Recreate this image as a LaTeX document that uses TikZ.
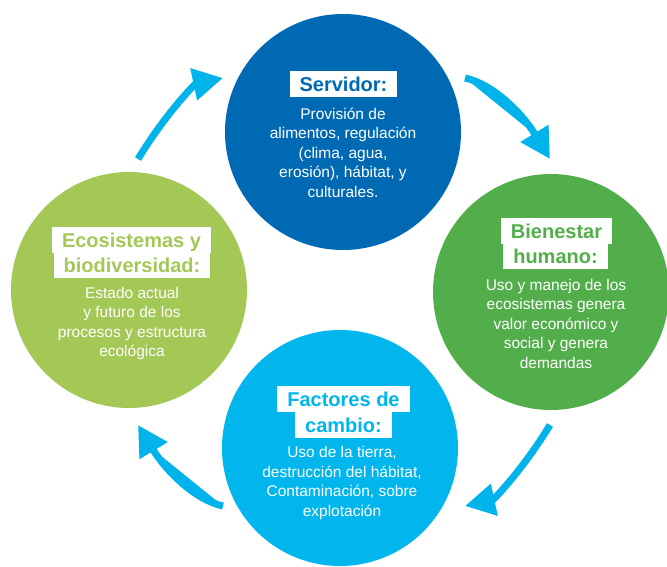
\documentclass[tikz,border=0pt]{standalone}
\usepackage{fontspec}
\setmainfont{Liberation Sans}
\usetikzlibrary{arrows.meta}
\definecolor{cblue}{RGB}{0,105,180}
\definecolor{cgreen}{RGB}{82,174,74}
\definecolor{ccyan}{RGB}{0,182,236}
\definecolor{clime}{RGB}{164,200,86}
\definecolor{carrow}{RGB}{0,180,235}
\begin{document}
\begin{tikzpicture}[x=1pt,y=-1pt,
  bubble/.style={circle, minimum size=236pt, inner sep=0pt, fill=#1},
  headbox/.style={fill=white, text=#1, font=\fontsize{20pt}{24pt}\selectfont\bfseries, inner xsep=10pt, inner ysep=2.5pt, text height=18pt, text depth=3pt},
  bodytext/.style={text=white, align=center, font=\fontsize{15.5pt}{19.5pt}\selectfont},
  cyclearrow/.style={draw=carrow, fill=carrow, line width=7pt, -{Triangle[length=30pt,width=31pt]}}
]
\useasboundingbox (0,0) rectangle (667,567);
\fill[white] (0,0) rectangle (667,567);

% circles
\node[bubble=cblue]  (top)    at (343,132) {};
\node[bubble=cgreen] (right)  at (551,292) {};
\node[bubble=ccyan]  (bottom) at (340,448) {};
\node[bubble=clime]  (left)   at (129,290) {};

% headings
\node[headbox=cblue] (topH) at (343.5,84) {Servidor:};

\node[headbox=cgreen] (rightH1) at (556.5,230.5) {Bienestar};
\node[headbox=cgreen] (rightH2) at (555.5,255.5) {humano:};

\node[headbox=ccyan] (bottomH1) at (343.5,399) {Factores de};
\node[headbox=ccyan] (bottomH2) at (343.5,424.5) {cambio:};

\node[headbox=clime] (leftH1) at (131.5,239.5) {Ecosistemas y};
\node[headbox=clime] (leftH2) at (132,264.5) {biodiversidad:};

% body texts
\node[bodytext] (topB) at (343,152.5) {Provisión de\\alimentos, regulación\\(clima, agua,\\erosión), hábitat, y\\culturales.};
\node[bodytext] (rightB) at (556,323.5) {Uso y manejo de los\\ecosistemas genera\\valor económico y\\social y genera\\demandas};
\node[bodytext] (leftB) at (132,323.5) {Estado actual\\y futuro de los\\procesos y estructura\\ecológica};
\node[bodytext] (bottomB) at (342,483) {Uso de la tierra,\\destrucción del hábitat,\\Contaminación, sobre\\explotación};

% arrows
\coordinate (trS) at (465,78);
\coordinate (trA) at (493,84);
\coordinate (trB) at (522,113);
\coordinate (trE) at (550,159);
\draw[cyclearrow] (trS) .. controls (trA) and (trB) .. (trE);

\coordinate (brS) at (550,425);
\coordinate (brA) at (522,471);
\coordinate (brB) at (493,500);
\coordinate (brE) at (465,506);
\draw[cyclearrow] (brS) .. controls (brA) and (brB) .. (brE);

\coordinate (blS) at (223,506);
\coordinate (blA) at (195,500);
\coordinate (blB) at (166,471);
\coordinate (blE) at (138,425);
\draw[cyclearrow] (blS) .. controls (blA) and (blB) .. (blE);

\coordinate (tlS) at (138,159);
\coordinate (tlA) at (166,113);
\coordinate (tlB) at (195,84);
\coordinate (tlE) at (223,78);
\draw[cyclearrow] (tlS) .. controls (tlA) and (tlB) .. (tlE);
\end{tikzpicture}
\end{document}
